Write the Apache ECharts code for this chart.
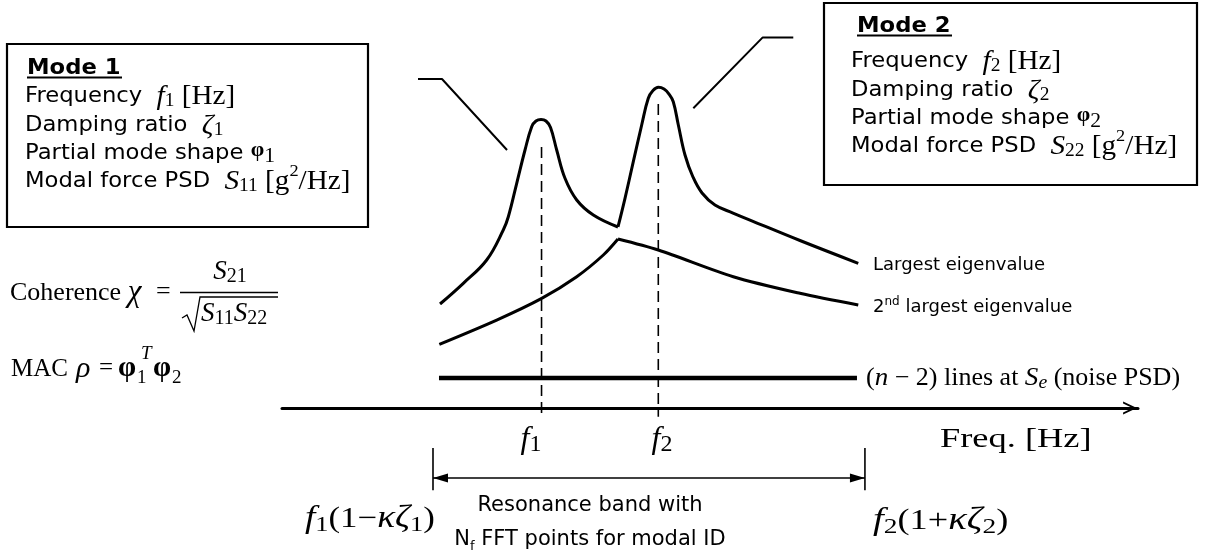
<!DOCTYPE html>
<html><head><meta charset="utf-8">
<script src="https://cdn.jsdelivr.net/npm/echarts@6/dist/echarts.min.js"></script>
<style>html,body{margin:0;padding:0;background:#fff}#c{width:1206px;height:555px}</style>
</head><body><div id="c"></div>
<script>
// x: frequency (arbitrary units), y: eigenvalue / PSD level (arbitrary units)
const largestMode1 = [[18.46,30.59],[21.18,36.68],[23.91,43.53],[25.85,52.35],[26.44,56.26],[27.42,66.09],[28.39,75.88],[29.17,82.74],[29.67,84.41],[30.26,84.85],[30.84,84.41],[31.37,82.5],[32.09,75.88],[33.06,67.56],[34.43,61.18],[36.37,56.76],[39.25,53.24]];
const largestMode2 = [[39.25,53.24],[40.07,61.68],[41.04,72.44],[42.02,83.24],[42.79,91.09],[43.34,93.38],[43.98,94.32],[44.63,93.82],[45.21,92.35],[45.71,90.09],[46.30,83.24],[47.08,74.41],[48.01,67.94],[49.07,63.24],[50.58,59.71],[52.69,57.35],[54.67,55.29],[60.51,49.26],[67.32,42.56]];
const secondRise = [[18.38,18.74],[25.08,25.88],[30.34,32.26],[34.43,38.62],[37.54,45.0],[39.25,49.71]];
const secondFall = [[39.25,49.71],[43.96,46.47],[52.72,38.62],[60.51,33.74],[67.32,30.29]];
const noiseLevel = [[18.34,8.82],[67.17,8.82]];
const f1Marker = [[30.32,76.8],[30.32,-2.6]];
const f2Marker = [[43.96,89.4],[43.96,-2.6]];
const leader1 = [[15.89,96.76],[18.69,96.76],[26.29,75.88]];
const leader2 = [[48.05,88.15],[56.16,109.0],[59.73,109.0]];
const bandEdgeLow = [[17.64,-11.8],[17.64,-24.2]];
const bandEdgeHigh = [[68.1,-11.8],[68.1,-24.2]];
const bandArrow = [[17.64,-20.6],[68.1,-20.6]];

const SANS = '"DejaVu Sans", Verdana, sans-serif';
const SERIF = '"Liberation Serif", "Times New Roman", serif';
const SX = 1.08;

const chart = echarts.init(document.getElementById('c'), null, {renderer:'canvas'});

function lineSeries(data, width, extra) {
  return Object.assign({
    type: 'line', data: data, symbol: 'none', silent: true, animation: false,
    lineStyle: {color: '#000', width: width, cap: 'butt', join: 'round'}
  }, extra || {});
}

function st(o) { return Object.assign({fill: '#000'}, o); }
const R = {
  s: st({fontFamily: SANS, fontSize: 21, lineHeight: 26}),
  sb: st({fontFamily: SANS, fontSize: 21, fontWeight: 'bold', lineHeight: 26}),
  i: st({fontFamily: SERIF, fontStyle: 'italic', fontSize: 27, lineHeight: 26}),
  r: st({fontFamily: SERIF, fontSize: 27, lineHeight: 26}),
  ph: st({fontFamily: SERIF, fontWeight: 'bold', fontSize: 20, lineHeight: 14, verticalAlign: 'top'}),
  pn: st({fontFamily: SERIF, fontSize: 20, lineHeight: 22, verticalAlign: 'bottom'}),
  sub: st({fontFamily: SERIF, fontSize: 18, lineHeight: 10, verticalAlign: 'bottom'}),
  subm: st({fontFamily: SERIF, fontSize: 18, lineHeight: 10, verticalAlign: 'bottom', padding: [0, 0, 6, 0]}),
  sup: st({fontFamily: SERIF, fontSize: 17, lineHeight: 38, verticalAlign: 'top'}),
  cr: st({fontFamily: SERIF, fontSize: 26, lineHeight: 30}),
  ci: st({fontFamily: SERIF, fontStyle: 'italic', fontSize: 27, lineHeight: 30}),
  chi: st({fontFamily: SERIF, fontStyle: 'italic', fontSize: 31, lineHeight: 30}),
  csub: st({fontFamily: SERIF, fontSize: 20, lineHeight: 14, verticalAlign: 'bottom'}),
  bi: st({fontFamily: SERIF, fontStyle: 'italic', fontSize: 32, lineHeight: 34}),
  bsub: st({fontFamily: SERIF, fontSize: 24, lineHeight: 16, verticalAlign: 'bottom'}),
  Bi: st({fontFamily: SERIF, fontStyle: 'italic', fontSize: 31, lineHeight: 34}),
  Br: st({fontFamily: SERIF, fontSize: 29, lineHeight: 34}),
  Bsub: st({fontFamily: SERIF, fontSize: 22, lineHeight: 16, verticalAlign: 'bottom'}),
  e: st({fontFamily: SANS, fontSize: 18, lineHeight: 22}),
  esup: st({fontFamily: SANS, fontSize: 12, lineHeight: 10, verticalAlign: 'top'}),
  n: st({fontFamily: SANS, fontSize: 21, lineHeight: 26}),
  nsub: st({fontFamily: SANS, fontSize: 13, lineHeight: 8, verticalAlign: 'bottom'}),
  nr: st({fontFamily: SERIF, fontSize: 25, lineHeight: 28}),
  ni: st({fontFamily: SERIF, fontStyle: 'italic', fontSize: 26, lineHeight: 28}),
  nisub: st({fontFamily: SERIF, fontStyle: 'italic', fontSize: 19, lineHeight: 12, verticalAlign: 'bottom'})
};

function txt(x, y, text, opts) {
  opts = opts || {};
  return {
    type: 'text', x: x, y: y, scaleX: opts.sx || 1, silent: true, z: 10,
    style: {text: text, rich: R, align: opts.align || 'left', verticalAlign: 'middle'}
  };
}
function plain(x, y, text, font, opts) {
  opts = opts || {};
  return {
    type: 'text', x: x, y: y, scaleX: opts.sx || 1, silent: true, z: 10,
    style: {text: text, font: font, fill: '#000', align: opts.align || 'left', verticalAlign: 'middle'}
  };
}

const graphics = [
  {type: 'rect', shape: {x: 7, y: 44, width: 361, height: 183}, style: {fill: 'none', stroke: '#000', lineWidth: 2.2}, silent: true},
  {type: 'rect', shape: {x: 824, y: 3, width: 373, height: 182}, style: {fill: 'none', stroke: '#000', lineWidth: 2.2}, silent: true},
  // box 1
  txt(27, 69, '{sb|Mode 1}', {sx: SX}),
  {type: 'line', shape: {x1: 27, y1: 77.5, x2: 122, y2: 77.5}, style: {stroke: '#000', lineWidth: 2}, silent: true},
  txt(25, 97, '{s|Frequency  }{i|f}{sub|1}{r| [Hz]}', {sx: SX}),
  txt(25, 126, '{s|Damping ratio  }{i|ζ}{sub|1}', {sx: SX}),
  txt(25, 154, '{s|Partial mode shape }{ph|φ}{pn|1}', {sx: SX}),
  txt(25, 182, '{s|Modal force PSD  }{i|S}{subm|11}{r| [g}{sup|2}{r|/Hz]}', {sx: SX}),
  // box 2
  txt(857, 27, '{sb|Mode 2}', {sx: SX}),
  {type: 'line', shape: {x1: 857, y1: 35.5, x2: 952, y2: 35.5}, style: {stroke: '#000', lineWidth: 2}, silent: true},
  txt(851, 62, '{s|Frequency  }{i|f}{sub|2}{r| [Hz]}', {sx: SX}),
  txt(851, 91, '{s|Damping ratio  }{i|ζ}{sub|2}', {sx: SX}),
  txt(851, 119, '{s|Partial mode shape }{ph|φ}{pn|2}', {sx: SX}),
  txt(851, 147, '{s|Modal force PSD  }{i|S}{subm|22}{r| [g}{sup|2}{r|/Hz]}', {sx: SX}),
  // coherence
  txt(10, 293, '{cr|Coherence }{chi|χ}'),
  plain(156, 292, '=', '26px ' + SERIF),
  txt(230, 272, '{ci|S}{csub|21}', {align: 'center'}),
  {type: 'line', shape: {x1: 180, y1: 292.5, x2: 278, y2: 292.5}, style: {stroke: '#000', lineWidth: 1.3}, silent: true},
  {type: 'polyline', shape: {points: [[182, 318], [187, 315], [194, 331], [200, 297], [278, 297]]}, style: {stroke: '#000', lineWidth: 1.3, fill: 'none'}, silent: true},
  txt(201, 314, '{ci|S}{csub|11}{ci|S}{csub|22}'),
  // MAC
  plain(11, 369, 'MAC', '25px ' + SERIF),
  plain(76, 369, 'ρ', 'italic 30px ' + SERIF),
  plain(99, 368, '=', '25px ' + SERIF),
  plain(118, 369, 'φ', 'bold 29px ' + SERIF),
  plain(137, 378, '1', '19px ' + SERIF),
  plain(141, 354, 'T', 'italic 19px ' + SERIF),
  plain(153, 369, 'φ', 'bold 29px ' + SERIF),
  plain(172, 378, '2', '19px ' + SERIF),
  // axis labels
  txt(531, 440, '{bi|f}{bsub|1}', {align: 'center'}),
  txt(662, 440, '{bi|f}{bsub|2}', {align: 'center'}),
  plain(940, 440, 'Freq. [Hz]', '28px ' + SERIF, {sx: 1.3}),
  txt(305, 519, '{Bi|f}{Bsub|1}{Br|(1−}{Bi|κζ}{Bsub|1}{Br|)}', {sx: 1.2}),
  txt(873, 521, '{Bi|f}{Bsub|2}{Br|(1+}{Bi|κζ}{Bsub|2}{Br|)}', {sx: 1.25}),
  txt(590, 506, '{n|Resonance band with}', {align: 'center'}),
  txt(590, 540, '{n|N}{nsub|f}{n| FFT points for modal ID}', {align: 'center'}),
  // curve labels
  txt(873, 265, '{e|Largest eigenvalue}'),
  txt(873, 307, '{e|2}{esup|nd}{e| largest eigenvalue}'),
  txt(866, 378, '{nr|(}{ni|n}{nr| − 2) lines at }{ni|S}{nisub|e}{nr| (noise PSD)}', {sx: 1.04})
];

const arrowHead = 'path://M15,15 L19.5,30 L10.5,30 Z M0,0 L0.01,0 L0,0.01 Z M30,0 L29.99,0 L30,0.01 Z';

const option = {
  animation: false,
  backgroundColor: '#fff',
  grid: {left: 282, right: 68, top: 0, bottom: 45},
  xAxis: {
    type: 'value', min: 0, max: 100,
    axisLine: {show: true, onZero: true, lineStyle: {color: '#000', width: 3},
      symbol: ['none', 'path://M0,17 L8,0 L16,17 L13.6,17 L8,5.4 L2.4,17 Z'], symbolSize: [13, 17], symbolOffset: [0, -8]},
    axisTick: {show: false}, axisLabel: {show: false}, splitLine: {show: false}
  },
  yAxis: {type: 'value', min: -30, max: 120, show: false, splitLine: {show: false}},
  series: [
    lineSeries(largestMode1, 3, {smooth: 0.4}),
    lineSeries(largestMode2, 3, {smooth: 0.4}),
    lineSeries(secondRise, 3, {smooth: 0.3}),
    lineSeries(secondFall, 3, {smooth: 0.3}),
    lineSeries(noiseLevel, 4.5),
    lineSeries(f1Marker, 1.6, {lineStyle: {color: '#000', width: 1.6, type: [11, 6]}}),
    lineSeries(f2Marker, 1.6, {lineStyle: {color: '#000', width: 1.6, type: [11, 6]}}),
    lineSeries(leader1, 2),
    lineSeries(leader2, 2),
    lineSeries(bandEdgeLow, 1.6),
    lineSeries(bandEdgeHigh, 1.6),
    {
      type: 'lines', coordinateSystem: 'cartesian2d', silent: true, animation: false,
      symbol: [arrowHead, arrowHead], symbolSize: 30,
      lineStyle: {color: '#000', width: 1.6, opacity: 1},
      data: [{coords: bandArrow}]
    }
  ],
  graphic: graphics
};
chart.setOption(option);
</script>
</body></html>
